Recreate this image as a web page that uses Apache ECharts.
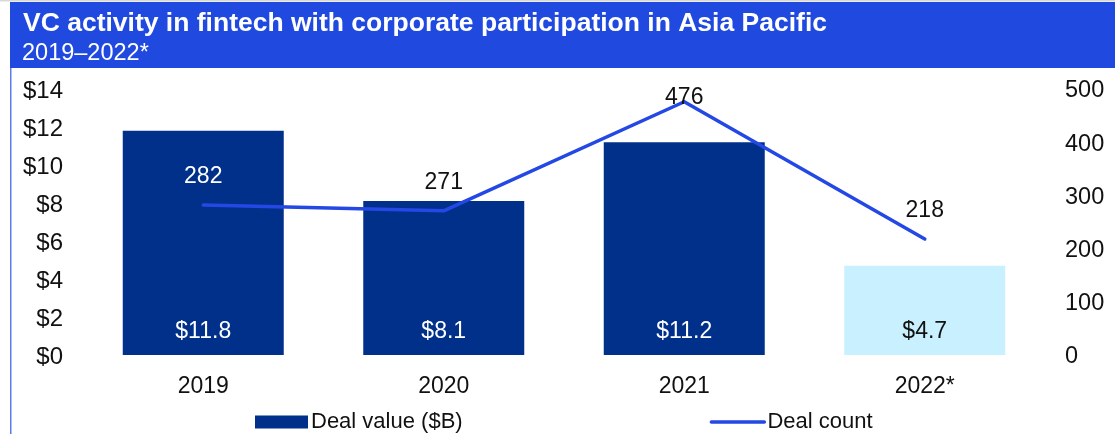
<!DOCTYPE html>
<html>
<head>
<meta charset="utf-8">
<script src="https://cdn.jsdelivr.net/npm/echarts@6/dist/echarts.min.js"></script>
<style>
  html, body { margin: 0; padding: 0; background: #ffffff; }
  #chart { width: 1115px; height: 434px; }
</style>
</head>
<body>
<div id="chart"></div>
<script>
// Chart data
const years = ['2019', '2020', '2021', '2022*'];
const dealValue = [11.8, 8.1, 11.2, 4.7];      // $B
const dealCount = [282, 271, 476, 218];
const leftTicks = { min: 0, max: 14, interval: 2 };
const rightTicks = { min: 0, max: 500, interval: 100 };

const FONT = 'Arial, "Liberation Sans", sans-serif';
const HEADER_BLUE = '#2049e0';
const BAR_DARK = '#00308a';
const BAR_LIGHT = '#c9f0fe';
const LINE_BLUE = '#2448e4';

const chart = echarts.init(document.getElementById('chart'), null, { renderer: 'canvas' });

const barData = dealValue.map((v, i) => {
  const partial = i === dealValue.length - 1;
  return {
    value: v,
    itemStyle: { color: partial ? BAR_LIGHT : BAR_DARK },
    label: { color: partial ? '#111111' : '#ffffff' }
  };
});

const lineData = dealCount.map((v, i) => {
  // first count label falls on the dark bar, so it is drawn in white
  if (i === 0) return { value: v, label: { color: '#ffffff' } };
  // peak label sits down on the line so it stays inside the plot
  if (i === 2) return { value: v, label: { offset: [0, 24] } };
  return v;
});

// tick labels sit a touch below their tick position
const tickLabel = {
  color: '#111111', margin: 20, fontFamily: FONT,
  verticalAlign: 'top', lineHeight: 4
};

chart.setOption({
  animation: false,
  textStyle: { fontFamily: FONT },
  graphic: [
    { type: 'rect', shape: { x: 0, y: 0, width: 1115, height: 1.5 }, style: { fill: '#d9d9d9' }, silent: true },
    { type: 'rect', shape: { x: 10, y: 2, width: 1105, height: 66 }, style: { fill: HEADER_BLUE }, silent: true },
    { type: 'rect', shape: { x: 10, y: 68, width: 1.5, height: 366 }, style: { fill: '#5b7cf0' }, silent: true },
    {
      type: 'text', x: 23, y: 24, silent: true,
      style: {
        text: 'VC activity in fintech with corporate participation in Asia Pacific',
        fill: '#ffffff', font: 'bold 26.5px ' + FONT, verticalAlign: 'middle'
      }
    },
    {
      type: 'text', x: 22, y: 54, silent: true,
      style: { text: '2019–2022*', fill: '#ffffff', font: '23.5px ' + FONT, verticalAlign: 'middle' }
    }
  ],
  grid: { left: 83, right: 70, top: 89, bottom: 79, containLabel: false },
  legend: {
    left: 250, top: 406,
    itemWidth: 53, itemHeight: 13, itemGap: 247,
    textStyle: { fontSize: 22, color: '#111111', fontFamily: FONT, padding: [0, 0, 0, -2] },
    data: [
      { name: 'Deal value ($B)', icon: 'rect' },
      { name: 'Deal count', itemStyle: { opacity: 0 }, lineStyle: { width: 3.5, color: LINE_BLUE } }
    ]
  },
  xAxis: {
    type: 'category',
    data: years,
    axisLine: { show: false },
    axisTick: { show: false },
    axisLabel: { fontSize: 23, color: '#111111', margin: 20, fontFamily: FONT }
  },
  yAxis: [
    {
      type: 'value', position: 'left',
      min: leftTicks.min, max: leftTicks.max, interval: leftTicks.interval,
      splitLine: { show: false }, axisLine: { show: false }, axisTick: { show: false },
      axisLabel: Object.assign({ fontSize: 24, formatter: '${value}' }, tickLabel)
    },
    {
      type: 'value', position: 'right',
      min: rightTicks.min, max: rightTicks.max, interval: rightTicks.interval,
      splitLine: { show: false }, axisLine: { show: false }, axisTick: { show: false },
      axisLabel: Object.assign({ fontSize: 23.5 }, tickLabel)
    }
  ],
  series: [
    {
      name: 'Deal value ($B)',
      type: 'bar',
      yAxisIndex: 0,
      barWidth: 161,
      data: barData,
      itemStyle: { color: BAR_DARK },
      label: {
        show: true, position: 'insideBottom', distance: 12,
        fontSize: 23, fontFamily: FONT,
        formatter: p => '$' + p.value.toFixed(1)
      }
    },
    {
      name: 'Deal count',
      type: 'line',
      yAxisIndex: 1,
      data: lineData,
      symbol: 'circle',
      symbolSize: 1,
      showSymbol: true,
      lineStyle: { color: LINE_BLUE, width: 3.5, cap: 'round', join: 'round' },
      itemStyle: { color: LINE_BLUE },
      label: {
        show: true, position: 'top', distance: 16.5,
        fontSize: 23, fontFamily: FONT,
        color: '#111111'
      },
      z: 3
    }
  ]
});
</script>
</body>
</html>
